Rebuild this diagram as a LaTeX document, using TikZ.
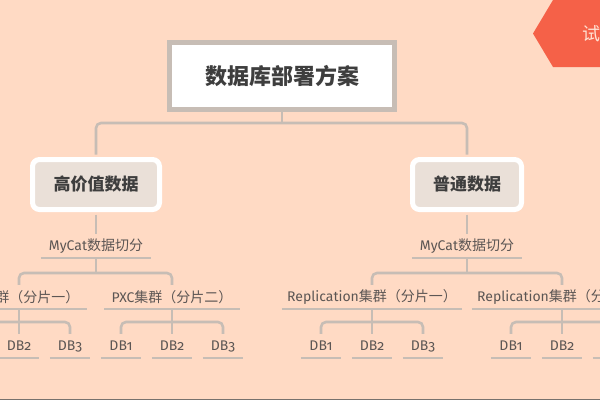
\documentclass[tikz,border=0pt]{standalone}
\usepackage{fontspec}
\setmainfont{Noto Sans CJK SC}
\newfontfamily\latinfont{Fira Sans}[Numbers=OldStyle]
\usepackage{tikz}
\usetikzlibrary{positioning, calc}
\definecolor{planbg}{RGB}{255, 218, 196}
\definecolor{planline}{RGB}{199, 189, 181}
\definecolor{planbox}{RGB}{234, 224, 216}
\definecolor{plandark}{RGB}{62, 62, 62}
\definecolor{plantext}{RGB}{92, 86, 84}
\definecolor{planred}{RGB}{245, 97, 72}
\definecolor{plantab}{RGB}{255, 226, 212}
\tikzset{
    conn/.style={draw=planline, line width=2.6pt, rounded corners=5pt},
    uline/.style={draw=planline, line width=2.4pt},
    tag/.style={inner sep=0pt, minimum height=24pt, text=plantext, font=\fontsize{14}{14}\selectfont}
}

\begin{document}
\begin{tikzpicture}[
    x=1pt, y=-1pt,
    rootbox/.style={draw=planline, line width=5pt, fill=white, minimum width=225pt, minimum height=67pt, font=\fontsize{22}{22}\selectfont\bfseries, text=plandark},
    catbox/.style={draw=white, line width=5pt, fill=planbox, rounded corners=7pt, minimum height=50pt, font=\fontsize{17}{17}\selectfont\bfseries, text=plandark},
    cut/.style={tag, minimum width=110pt},
    pxc/.style={tag, minimum width=135pt},
    repl/.style={tag, minimum width=180pt},
    db/.style={tag, minimum width=40pt, font=\latinfont\fontsize{14}{14}\selectfont}
]
    % Canvas
    \fill[planbg] (0,0) rectangle (600,400);
    \useasboundingbox (0,0) rectangle (600,400);
    \draw[planline!60!black, line width=1pt] (0,399.5) -- (600,399.5);

    % Corner tab
    \fill[planred] (553,0) -- (533,33.5) -- (553,67) -- (600,67) -- (600,0) -- cycle;
    \node[anchor=west, inner sep=0pt, text=plantab, font=\fontsize{18}{18}\selectfont] (trial) at (582,34) {试};

    % Root and the two data classes
    \node[rootbox] (plan) at (282,76) {数据库部署方案};
    \node[catbox, minimum width=127pt] (hv) at (96,184.5) {高价值数据};
    \node[catbox, minimum width=109pt] (pt) at (467,184.5) {普通数据};

    \coordinate (rootbar) at (282,123);
    \draw[conn] (plan.south) -- (rootbar);
    \draw[conn, shorten <=2.5pt, shorten >=2.5pt] (hv.north) |- (rootbar) -| (pt.north);

    % Left branch (PXC)
    \node[cut] (hvcut) at (96,246) {{\latinfont MyCat}数据切分};
    \node[pxc] (hv1) at (19,297) {{\latinfont PXC}集群（分片一）};
    \node[pxc] (hv2) at (172,297) {{\latinfont PXC}集群（分片二）};
    \draw[conn, shorten <=2.5pt] (hv.south) -- (hvcut.north);
    \coordinate (hvbar) at (96,273);
    \draw[conn] (hvcut.south) -- (hvbar);
    \draw[conn] (hv1.north) |- (hvbar) -| (hv2.north);

    \coordinate (hv1db1) at (-32,334);
    \node[db] (hv1db2) at (19,346) {DB2};
    \node[db] (hv1db3) at (70,346) {DB3};
    \node[db] (hv2db1) at (121,346) {DB1};
    \node[db] (hv2db2) at (172,346) {DB2};
    \node[db] (hv2db3) at (223,346) {DB3};
    \coordinate (hv1bar) at (19,322);
    \coordinate (hv2bar) at (172,322);
    \draw[conn] (hv1.south) -- (hv1db2.north);
    \draw[conn] (hv1db1) |- (hv1bar) -| (hv1db3.north);
    \draw[conn] (hv2.south) -- (hv2db2.north);
    \draw[conn] (hv2db1.north) |- (hv2bar) -| (hv2db3.north);

    % Right branch (Replication)
    \node[cut] (ptcut) at (467,246) {{\latinfont MyCat}数据切分};
    \node[repl] (pt1) at (372,297) {{\latinfont Replication}集群（分片一）};
    \node[repl] (pt2) at (562,297) {{\latinfont Replication}集群（分片二）};
    \draw[conn, shorten <=2.5pt] (pt.south) -- (ptcut.north);
    \coordinate (ptbar) at (467,273);
    \draw[conn] (ptcut.south) -- (ptbar);
    \draw[conn] (pt1.north) |- (ptbar) -| (pt2.north);

    \node[db] (pt1db1) at (321,346) {DB1};
    \node[db] (pt1db2) at (372,346) {DB2};
    \node[db] (pt1db3) at (423,346) {DB3};
    \node[db] (pt2db1) at (511,346) {DB1};
    \node[db] (pt2db2) at (562,346) {DB2};
    \node[db] (pt2db3) at (613,346) {};
    \coordinate (pt1bar) at (372,322);
    \coordinate (pt2bar) at (562,322);
    \draw[conn] (pt1.south) -- (pt1db2.north);
    \draw[conn] (pt1db1.north) |- (pt1bar) -| (pt1db3.north);
    \draw[conn] (pt2.south) -- (pt2db2.north);
    \draw[conn] (pt2db1.north) |- (pt2bar) -| (pt2db3.north);

    % Underlines
    \draw[uline] (hvcut.south west) -- (hvcut.south east);
    \draw[uline] (ptcut.south west) -- (ptcut.south east);
    \draw[uline] (hv1.south west) -- (hv1.south east);
    \draw[uline] (hv2.south west) -- (hv2.south east);
    \draw[uline] (pt1.south west) -- (pt1.south east);
    \draw[uline] (pt2.south west) -- (pt2.south east);
    \draw[uline] (hv1db2.south west) -- (hv1db2.south east);
    \draw[uline] (hv1db3.south west) -- (hv1db3.south east);
    \draw[uline] (hv2db1.south west) -- (hv2db1.south east);
    \draw[uline] (hv2db2.south west) -- (hv2db2.south east);
    \draw[uline] (hv2db3.south west) -- (hv2db3.south east);
    \draw[uline] (pt1db1.south west) -- (pt1db1.south east);
    \draw[uline] (pt1db2.south west) -- (pt1db2.south east);
    \draw[uline] (pt1db3.south west) -- (pt1db3.south east);
    \draw[uline] (pt2db1.south west) -- (pt2db1.south east);
    \draw[uline] (pt2db2.south west) -- (pt2db2.south east);
    \draw[uline] (pt2db3.south west) -- (pt2db3.south east);
\end{tikzpicture}
\end{document}
